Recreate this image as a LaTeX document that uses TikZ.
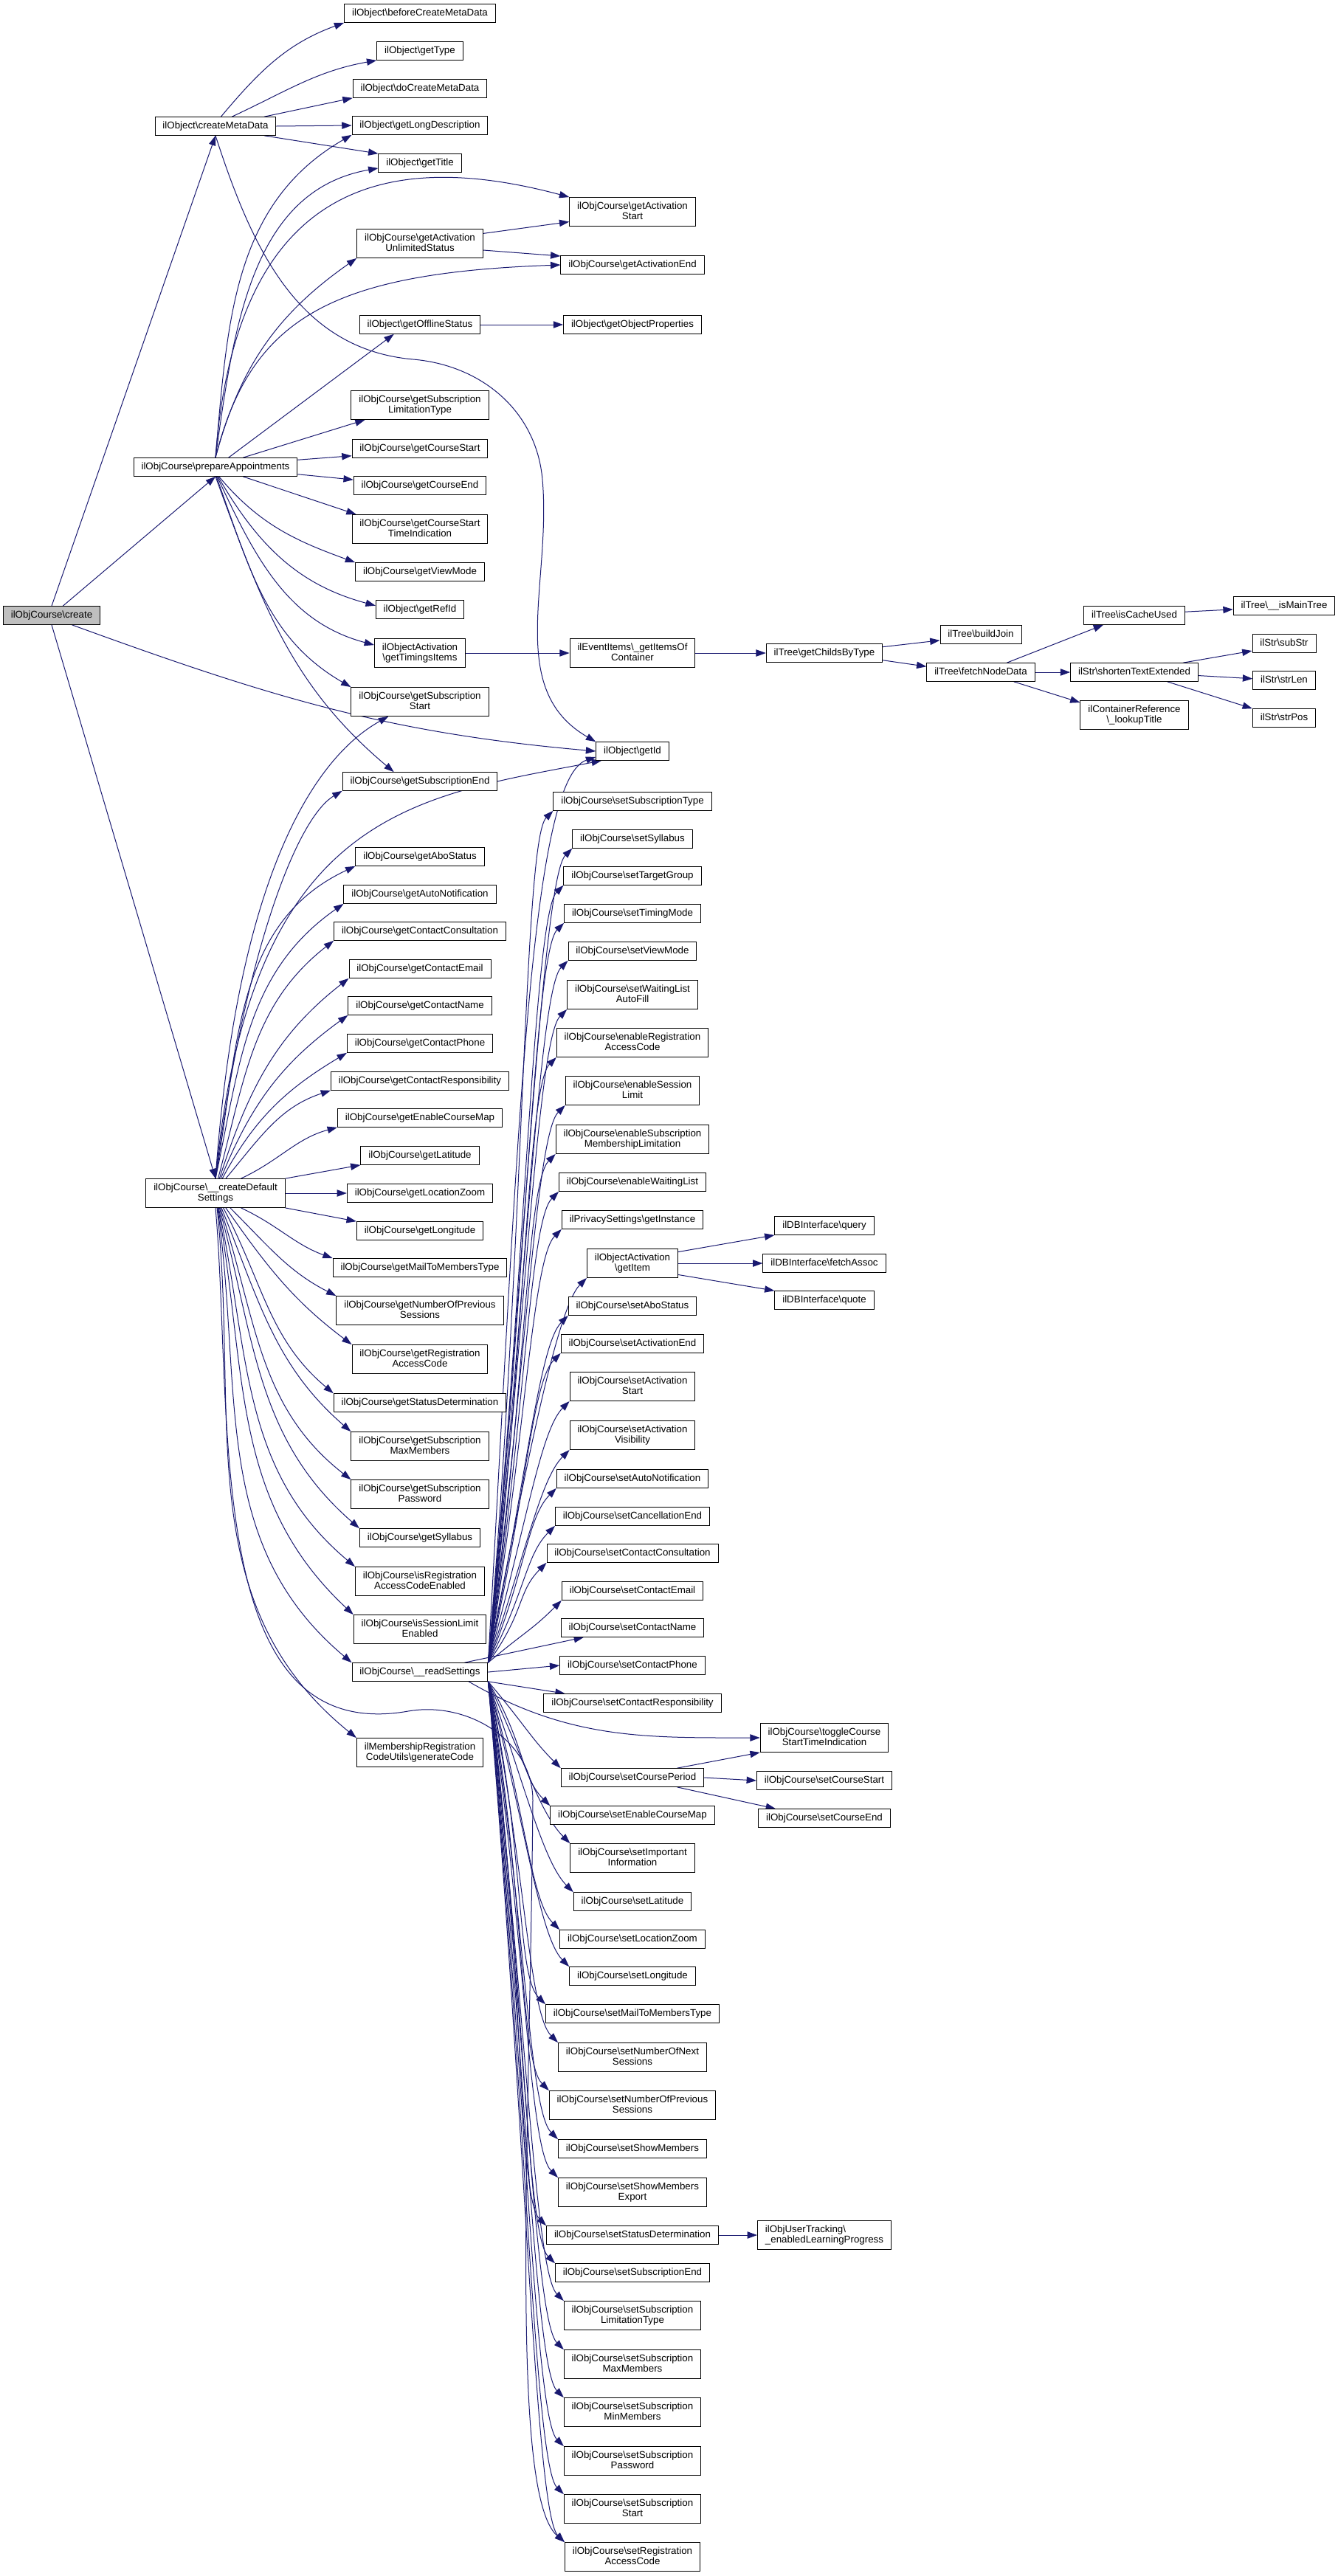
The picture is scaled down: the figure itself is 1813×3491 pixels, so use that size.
\documentclass[tikz,border=0pt]{standalone}
\usepackage{fontspec}
\setmainfont{Liberation Sans}
\usetikzlibrary{arrows.meta,backgrounds}
\definecolor{callblue}{HTML}{191970}
\newcommand{\ns}{\textbackslash}

\begin{document}
\begin{tikzpicture}[x=0.75pt,y=-0.75pt,
  fn/.style={draw,fill=white,line width=0.75pt,align=center,inner xsep=7.8pt,inner ysep=4.5pt,minimum height=18.5pt,text depth=2.2pt,font=\fontsize{10}{10.7}\selectfont},
  root/.style={fn,fill=black!25},
  call/.style={draw=callblue,line width=0.75pt,-{Triangle[length=10pt,width=7pt]}}]

\useasboundingbox (0,0) rectangle (1813,3491);

\path
  (70,834) node[root](create) {ilObjCourse\ns create}
  (292,171) node[fn](cmd) {ilObject\ns createMetaData}
  (292,633) node[fn](prep) {ilObjCourse\ns prepareAppointments}
  (292,1617) node[fn](cds) {ilObjCourse\ns\_\_createDefault\\Settings}
  ;

\path
  (569,18) node[fn](bcmd) {ilObject\ns beforeCreateMetaData}
  (569,69) node[fn](gtype) {ilObject\ns getType}
  (569,120) node[fn](docmd) {ilObject\ns doCreateMetaData}
  (569,170) node[fn](glong) {ilObject\ns getLongDescription}
  (569,221) node[fn](gtitle) {ilObject\ns getTitle}
  (569,330) node[fn](gaus) {ilObjCourse\ns getActivation\\UnlimitedStatus}
  (569,440) node[fn](goff) {ilObject\ns getOfflineStatus}
  (569,549) node[fn](gslt) {ilObjCourse\ns getSubscription\\LimitationType}
  (569,608) node[fn](gcs) {ilObjCourse\ns getCourseStart}
  (569,658) node[fn](gce) {ilObjCourse\ns getCourseEnd}
  (569,717) node[fn](gcsti) {ilObjCourse\ns getCourseStart\\TimeIndication}
  (569,775) node[fn](gvm) {ilObjCourse\ns getViewMode}
  (569,826) node[fn](grefid) {ilObject\ns getRefId}
  (569,885) node[fn](gtim) {ilObjectActivation\\\ns getTimingsItems}
  (569,951) node[fn](gss) {ilObjCourse\ns getSubscription\\Start}
  (569,1059) node[fn](gse) {ilObjCourse\ns getSubscriptionEnd}
  (569,1161) node[fn](gabo) {ilObjCourse\ns getAboStatus}
  (569,1212) node[fn](gan) {ilObjCourse\ns getAutoNotification}
  (569,1262) node[fn](gcc) {ilObjCourse\ns getContactConsultation}
  (569,1313) node[fn](gcem) {ilObjCourse\ns getContactEmail}
  (569,1363) node[fn](gcn) {ilObjCourse\ns getContactName}
  (569,1414) node[fn](gcp) {ilObjCourse\ns getContactPhone}
  (569,1465) node[fn](gcr) {ilObjCourse\ns getContactResponsibility}
  (569,1515) node[fn](gecm) {ilObjCourse\ns getEnableCourseMap}
  (569,1566) node[fn](glat) {ilObjCourse\ns getLatitude}
  (569,1617) node[fn](glz) {ilObjCourse\ns getLocationZoom}
  (569,1668) node[fn](glon) {ilObjCourse\ns getLongitude}
  (569,1718) node[fn](gmail) {ilObjCourse\ns getMailToMembersType}
  (569,1776) node[fn](gnps) {ilObjCourse\ns getNumberOfPrevious\\Sessions}
  (569,1842) node[fn](grac) {ilObjCourse\ns getRegistration\\AccessCode}
  (569,1901) node[fn](gsd) {ilObjCourse\ns getStatusDetermination}
  (569,1960) node[fn](gsmax) {ilObjCourse\ns getSubscription\\MaxMembers}
  (569,2025) node[fn](gspw) {ilObjCourse\ns getSubscription\\Password}
  (569,2084) node[fn](gsyl) {ilObjCourse\ns getSyllabus}
  (569,2143) node[fn](irace) {ilObjCourse\ns isRegistration\\AccessCodeEnabled}
  (569,2208) node[fn](isle) {ilObjCourse\ns isSessionLimit\\Enabled}
  (569,2266) node[fn](rs) {ilObjCourse\ns\_\_readSettings}
  (569,2375) node[fn](gencode) {ilMembershipRegistration\\CodeUtils\ns generateCode}
  ;

\path
  (857,287) node[fn](gas) {ilObjCourse\ns getActivation\\Start}
  (857,359) node[fn](gae) {ilObjCourse\ns getActivationEnd}
  (857,440) node[fn](gop) {ilObject\ns getObjectProperties}
  (857,885) node[fn](evit) {ilEventItems\ns\_getItemsOf\\Container}
  (857,1018) node[fn](getid) {ilObject\ns getId}
  (857,1086) node[fn](sst) {ilObjCourse\ns setSubscriptionType}
  (857,1137) node[fn](ssyl) {ilObjCourse\ns setSyllabus}
  (857,1187) node[fn](stg) {ilObjCourse\ns setTargetGroup}
  (857,1238) node[fn](stm) {ilObjCourse\ns setTimingMode}
  (857,1289) node[fn](svm) {ilObjCourse\ns setViewMode}
  (857,1348) node[fn](swl) {ilObjCourse\ns setWaitingList\\AutoFill}
  (857,1413) node[fn](erac) {ilObjCourse\ns enableRegistration\\AccessCode}
  (857,1478) node[fn](esl) {ilObjCourse\ns enableSession\\Limit}
  (857,1544) node[fn](esml) {ilObjCourse\ns enableSubscription\\MembershipLimitation}
  (857,1602) node[fn](ewl) {ilObjCourse\ns enableWaitingList}
  (857,1653) node[fn](privinst) {ilPrivacySettings\ns getInstance}
  (857,1712) node[fn](getitem) {ilObjectActivation\\\ns getItem}
  (857,1770) node[fn](sabo) {ilObjCourse\ns setAboStatus}
  (857,1821) node[fn](sae) {ilObjCourse\ns setActivationEnd}
  (857,1879) node[fn](sas) {ilObjCourse\ns setActivation\\Start}
  (857,1945) node[fn](sav) {ilObjCourse\ns setActivation\\Visibility}
  (857,2004) node[fn](san) {ilObjCourse\ns setAutoNotification}
  (857,2055) node[fn](scan) {ilObjCourse\ns setCancellationEnd}
  (857,2105) node[fn](scc) {ilObjCourse\ns setContactConsultation}
  (857,2156) node[fn](scem) {ilObjCourse\ns setContactEmail}
  (857,2206) node[fn](scn) {ilObjCourse\ns setContactName}
  (857,2257) node[fn](scp) {ilObjCourse\ns setContactPhone}
  (857,2308) node[fn](scr) {ilObjCourse\ns setContactResponsibility}
  (857,2409) node[fn](scpd) {ilObjCourse\ns setCoursePeriod}
  (857,2460) node[fn](secm) {ilObjCourse\ns setEnableCourseMap}
  (857,2518) node[fn](sii) {ilObjCourse\ns setImportant\\Information}
  (857,2577) node[fn](slat) {ilObjCourse\ns setLatitude}
  (857,2628) node[fn](slz) {ilObjCourse\ns setLocationZoom}
  (857,2678) node[fn](slon) {ilObjCourse\ns setLongitude}
  (857,2729) node[fn](smail) {ilObjCourse\ns setMailToMembersType}
  (857,2788) node[fn](snns) {ilObjCourse\ns setNumberOfNext\\Sessions}
  (857,2853) node[fn](snps) {ilObjCourse\ns setNumberOfPrevious\\Sessions}
  (857,2912) node[fn](ssm) {ilObjCourse\ns setShowMembers}
  (857,2971) node[fn](ssme) {ilObjCourse\ns setShowMembers\\Export}
  (857,3029) node[fn](ssd) {ilObjCourse\ns setStatusDetermination}
  (857,3080) node[fn](sse) {ilObjCourse\ns setSubscriptionEnd}
  (857,3138) node[fn](sslt) {ilObjCourse\ns setSubscription\\LimitationType}
  (857,3204) node[fn](ssmax) {ilObjCourse\ns setSubscription\\MaxMembers}
  (857,3269) node[fn](ssmin) {ilObjCourse\ns setSubscription\\MinMembers}
  (857,3335) node[fn](sspw) {ilObjCourse\ns setSubscription\\Password}
  (857,3400) node[fn](sss) {ilObjCourse\ns setSubscription\\Start}
  (857,3465) node[fn](srac) {ilObjCourse\ns setRegistration\\AccessCode}
  ;

\path
  (1117,885) node[fn](childs) {ilTree\ns getChildsByType}
  (1117,1661) node[fn](query) {ilDBInterface\ns query}
  (1117,1712) node[fn](fassoc) {ilDBInterface\ns fetchAssoc}
  (1117,1762) node[fn](quote) {ilDBInterface\ns quote}
  (1117,2355) node[fn](toggle) {ilObjCourse\ns toggleCourse\\StartTimeIndication}
  (1117,2413) node[fn](scs) {ilObjCourse\ns setCourseStart}
  (1117,2464) node[fn](sce) {ilObjCourse\ns setCourseEnd}
  (1117,3029) node[fn,align=left](elp) {ilObjUserTracking\ns\\\_enabledLearningProgress}
  (1329,860) node[fn](join) {ilTree\ns buildJoin}
  (1329,911) node[fn](fnd) {ilTree\ns fetchNodeData}
  (1537,834) node[fn](cache) {ilTree\ns isCacheUsed}
  (1537,911) node[fn](shorten) {ilStr\ns shortenTextExtended}
  (1537,969) node[fn](lookup) {ilContainerReference\\\ns\_lookupTitle}
  (1740,821) node[fn](mtree) {ilTree\ns\_\_isMainTree}
  (1740,872) node[fn](substr) {ilStr\ns subStr}
  (1740,922) node[fn](strlen) {ilStr\ns strLen}
  (1740,973) node[fn](strpos) {ilStr\ns strPos}
  ;

\begin{scope}[on background layer]
\draw[call] (create.north) -- (cmd.south);
\draw[call] (create.40) -- (prep.south);
\draw[call] (create.-25) to[out=-20,in=175] (getid.west);
\draw[call] (create.south) -- (cds.north);

\draw[call] (cmd.60) to[out=50,in=200] (bcmd.south west);
\draw[call] (cmd.30) to[out=25,in=190] (gtype.south west);
\draw[call] (cmd.11) -- (docmd.south west);
\draw[call] (cmd.east) -- (glong.west);
\draw[call] (cmd.-11) -- (gtitle.north west);
\draw[call] (cmd.south) to[out=-72,in=175] (560,487) to[out=-5,in=95] (735,650) to[out=-85,in=150] (getid.north west);

\draw[call] (prep.north) to[out=85,in=210] (glong.south west);
\draw[call] (prep.north) to[out=82,in=190] (gtitle.-173);
\draw[call] (prep.north) .. controls (320,250) and (520,200) .. (gas.north west);
\draw[call] (prep.north) to[out=75,in=215] (gaus.south west);
\draw[call] (prep.north) .. controls (340,430) and (450,370) .. (gae.west);
\draw[call] (prep.36) -- (goff.-160);
\draw[call] (prep.19) -- (gslt.-165);
\draw[call] (prep.5) -- (gcs.-174);
\draw[call] (prep.-5) -- (gce.175);
\draw[call] (prep.-19) -- (gcsti.167);
\draw[call] (prep.-70) to[out=-50,in=160] (gvm.north west);
\draw[call] (prep.-75) to[out=-60,in=165] (grefid.175);
\draw[call] (prep.-80) to[out=-65,in=165] (gtim.170);
\draw[call] (prep.-85) to[out=-70,in=150] (gss.north west);
\draw[call] (prep.south) to[out=-70,in=140] (gse.160);

\draw[call] (gaus.9) -- (gas.-171);
\draw[call] (gaus.-6) -- (gae.173);
\draw[call] (goff.east) -- (gop.west);
\draw[call] (gtim.east) -- (evit.west);
\draw[call] (evit.east) -- (childs.west);
\draw[call] (childs.6) -- (join.-172);
\draw[call] (childs.-7) -- (fnd.174);
\draw[call] (fnd.20) -- (cache.-163);
\draw[call] (fnd.east) -- (shorten.west);
\draw[call] (fnd.-16) -- (lookup.167);
\draw[call] (cache.4) -- (mtree.-176);
\draw[call] (shorten.11) -- (substr.-167);
\draw[call] (shorten.-3) -- (strlen.177);
\draw[call] (shorten.-16) -- (strpos.north west);

\draw[call] (cds.north) .. controls (340,1100) and (560,1080) .. (getid.-163);
\draw[call] (cds.north) .. controls (320,1200) and (420,1030) .. (gss.-155);
\draw[call] (cds.north) .. controls (330,1300) and (400,1110) .. (gse.south west);
\draw[call] (cds.north) to[out=80,in=205] (gabo.south west);
\draw[call] (cds.north) to[out=78,in=215] (gan.south west);
\draw[call] (cds.80) to[out=75,in=218] (gcc.south west);
\draw[call] (cds.75) to[out=72,in=218] (gcem.south west);
\draw[call] (cds.70) to[out=68,in=216] (gcn.south west);
\draw[call] (cds.65) to[out=62,in=211] (gcp.south west);
\draw[call] (cds.55) to[out=50,in=198] (gcr.south west);
\draw[call] (cds.30) to[out=25,in=195] (gecm.south west);
\draw[call] (cds.north east) -- (glat.south west);
\draw[call] (cds.east) -- (glz.west);
\draw[call] (cds.south east) -- (glon.north west);
\draw[call] (cds.-30) to[out=-25,in=160] (gmail.north west);
\draw[call] (cds.-45) to[out=-45,in=153] (gnps.north west);
\draw[call] (cds.-55) to[out=-55,in=143] (grac.north west);
\draw[call] (cds.-62) to[out=-62,in=140] (gsd.north west);
\draw[call] (cds.-68) to[out=-68,in=139] (gsmax.north west);
\draw[call] (cds.-72) to[out=-72,in=142] (gspw.north west);
\draw[call] (cds.-75) to[out=-75,in=139] (gsyl.north west);
\draw[call] (cds.-78) to[out=-78,in=140] (irace.north west);
\draw[call] (cds.-80) to[out=-80,in=137] (isle.north west);
\draw[call] (cds.-82) to[out=-82,in=140] (rs.north west);
\draw[call] (cds.-84) to[out=-84,in=141] (gencode.north west);
\draw[call] (cds.south) to[out=-85,in=190] (553,2319) to[out=10,in=90] (722,2440) .. controls (718,2900) and (690,3380) .. (srac.north west);

\draw[call] (rs.north east) .. controls +(40,-700) and +(-90,30) .. (getid.-171);
\draw[call] (rs.north east) .. controls +(50,-577) and +(-40,40) .. (sst.south west);
\draw[call] (rs.north east) .. controls +(50,-552) and +(-40,40) .. (ssyl.south west);
\draw[call] (rs.north east) .. controls +(50,-527) and +(-40,40) .. (stg.south west);
\draw[call] (rs.north east) .. controls +(50,-501) and +(-40,40) .. (stm.south west);
\draw[call] (rs.north east) .. controls +(50,-476) and +(-40,40) .. (svm.south west);
\draw[call] (rs.north east) .. controls +(50,-443) and +(-40,40) .. (swl.south west);
\draw[call] (rs.north east) .. controls +(50,-410) and +(-40,40) .. (erac.south west);
\draw[call] (rs.north east) .. controls +(50,-378) and +(-40,40) .. (esl.south west);
\draw[call] (rs.north east) .. controls +(50,-345) and +(-40,40) .. (esml.south west);
\draw[call] (rs.north east) .. controls +(50,-320) and +(-40,40) .. (ewl.south west);
\draw[call] (rs.north east) .. controls +(50,-294) and +(-40,40) .. (privinst.south west);
\draw[call] (rs.north east) .. controls +(50,-261) and +(-40,40) .. (getitem.south west);
\draw[call] (rs.north east) .. controls +(50,-235) and +(-40,40) .. (sabo.south west);
\draw[call] (rs.north east) .. controls +(50,-210) and +(-40,40) .. (sae.south west);
\draw[call] (rs.north east) .. controls +(50,-177) and +(-40,40) .. (sas.south west);
\draw[call] (rs.north east) .. controls +(50,-144) and +(-40,40) .. (sav.south west);
\draw[call] (rs.north east) .. controls +(50,-118) and +(-40,40) .. (san.south west);
\draw[call] (rs.north east) .. controls +(50,-93) and +(-40,40) .. (scan.south west);
\draw[call] (rs.north east) .. controls +(50,-68) and +(-40,40) .. (scc.south west);
\draw[call] (rs.north east) .. controls +(50,-42) and +(-40,40) .. (scem.south west);
\draw[call] (rs.12) -- (scn.-169);
\draw[call] (rs.east) -- (scp.west);
\draw[call] (rs.south east) -- (scr.172);
\draw[call] (rs.-11) to[out=-30,in=180] (toggle.west);
\draw[call] (rs.south east) .. controls +(50,59) and +(-40,-40) .. (scpd.north west);
\draw[call] (rs.south east) .. controls +(50,84) and +(-40,-40) .. (secm.north west);
\draw[call] (rs.south east) .. controls +(50,110) and +(-40,-40) .. (sii.north west);
\draw[call] (rs.south east) .. controls +(50,143) and +(-40,-40) .. (slat.north west);
\draw[call] (rs.south east) .. controls +(50,168) and +(-40,-40) .. (slz.north west);
\draw[call] (rs.south east) .. controls +(50,193) and +(-40,-40) .. (slon.north west);
\draw[call] (rs.south east) .. controls +(50,218) and +(-40,-40) .. (smail.north west);
\draw[call] (rs.south east) .. controls +(50,244) and +(-40,-40) .. (snns.north west);
\draw[call] (rs.south east) .. controls +(50,277) and +(-40,-40) .. (snps.north west);
\draw[call] (rs.south east) .. controls +(50,310) and +(-40,-40) .. (ssm.north west);
\draw[call] (rs.south east) .. controls +(50,336) and +(-40,-40) .. (ssme.north west);
\draw[call] (rs.south east) .. controls +(50,369) and +(-40,-40) .. (ssd.north west);
\draw[call] (rs.south east) .. controls +(50,394) and +(-40,-40) .. (sse.north west);
\draw[call] (rs.south east) .. controls +(50,420) and +(-40,-40) .. (sslt.north west);
\draw[call] (rs.south east) .. controls +(50,452) and +(-40,-40) .. (ssmax.north west);
\draw[call] (rs.south east) .. controls +(50,485) and +(-40,-40) .. (ssmin.north west);
\draw[call] (rs.south east) .. controls +(50,518) and +(-40,-40) .. (sspw.north west);
\draw[call] (rs.south east) .. controls +(50,550) and +(-40,-40) .. (sss.north west);
\draw[call] (rs.south east) .. controls +(50,583) and +(-40,-40) .. (srac.north west);

\draw[call] (getitem.14) -- (query.south west);
\draw[call] (getitem.east) -- (fassoc.west);
\draw[call] (getitem.-14) -- (quote.north west);
\draw[call] (scpd.12) -- (toggle.south west);
\draw[call] (scpd.east) -- (scs.west);
\draw[call] (scpd.-12) -- (sce.169);
\draw[call] (ssd.east) -- (elp.west);
\end{scope}
\end{tikzpicture}
\end{document}
